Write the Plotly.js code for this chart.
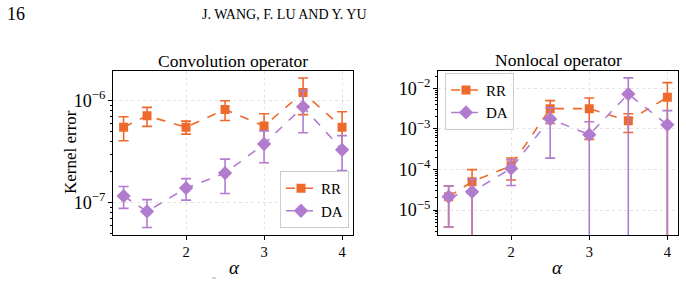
<!DOCTYPE html>
<html>
<head>
<meta charset="utf-8">
<script src="https://cdn.plot.ly/plotly-3.0.1.min.js"></script>
<style>
html,body{margin:0;padding:0;background:#fff;}
#chart{width:686px;height:283px;}
</style>
</head>
<body>
<div id="chart"></div>
<script>
// ---- data ----
var alpha = [1.2, 1.5, 2, 2.5, 3, 3.5, 4];

// Convolution operator (mean, std)
var convRR = [5.5e-7, 7.1e-7, 5.5e-7, 8.2e-7, 5.65e-7, 1.2e-6, 5.5e-7];
var convRRstd = [1.45e-7, 1.5e-7, 0.8e-7, 1.8e-7, 1.8e-7, 4.7e-7, 2.3e-7];
var convDA = [1.16e-7, 8.2e-8, 1.39e-7, 1.95e-7, 3.76e-7, 8.7e-7, 3.3e-7];
var convDAstd = [2.8e-8, 2.5e-8, 3.3e-8, 7.2e-8, 1.3e-7, 3.85e-7, 1.24e-7];

// Nonlocal operator (mean, std)
var nlRR = [2.13e-5, 5.0e-5, 1.23e-4, 3.15e-3, 3.15e-3, 1.58e-3, 6.0e-3];
var nlRRstd = [1.75e-5, 4.9e-5, 6.8e-5, 1.8e-3, 2.6e-3, 7.7e-4, 7.8e-3];
var nlDA = [2.13e-5, 2.8e-5, 1.06e-4, 1.75e-3, 7.2e-4, 7.2e-3, 1.26e-3];
var nlDAstd = [1.75e-5, 3.0e-5, 6.6e-5, 1.56e-3, 7.8e-4, 1.08e-2, 1.55e-3];

var seriesNames = ['RR', 'DA'];
var titles = ['Convolution operator', 'Nonlocal operator'];
var xTicks = [2, 3, 4];

// ---- styles ----
var cRR = '#EE6A2C', cDA = '#B27CCE';
var serif = 'Liberation Serif, DejaVu Serif, serif';

function tr(x, y, err, name, color, symbol, size, xa, ya, leg) {
  return {
    x: x, y: y, name: name, type: 'scatter', mode: 'lines+markers',
    xaxis: xa, yaxis: ya, legend: leg,
    line: {color: color, width: 1.6, dash: 'dash'},
    marker: {color: color, symbol: symbol, size: size},
    error_y: {type: 'data', array: err, visible: true, color: color, thickness: 1.6, width: 5}
  };
}

var data = [
  tr(alpha, convRR, convRRstd, seriesNames[0], cRR, 'square', 9, 'x', 'y', 'legend'),
  tr(alpha, convDA, convDAstd, seriesNames[1], cDA, 'diamond', 11, 'x', 'y', 'legend'),
  tr(alpha, nlRR, nlRRstd, seriesNames[0], cRR, 'square', 9, 'x2', 'y2', 'legend2'),
  tr(alpha, nlDA, nlDAstd, seriesNames[1], cDA, 'diamond', 11, 'x2', 'y2', 'legend2')
];

var W = 686, H = 283;
function px(v){return v / W;}
function py(v){return 1 - v / H;}

var tickFont = {family: serif, size: 14.5, color: '#000'};
function xax(dom, anchor) {
  return {
    domain: dom, anchor: anchor, range: [1.06, 4.14],
    tickvals: xTicks, ticktext: xTicks.map(String),
    ticks: 'outside', ticklen: 3.5, tickcolor: '#000', tickfont: tickFont,
    showline: true, mirror: true, linecolor: '#000', linewidth: 1,
    showgrid: true, gridcolor: '#e4e4e4', griddash: 'dot', gridwidth: 1,
    zeroline: false
  };
}
function yax(dom, anchor, range) {
  return {
    domain: dom, anchor: anchor, type: 'log', range: range,
    dtick: 1, exponentformat: 'power', showexponent: 'all',
    ticks: 'outside', ticklen: 3.5, tickcolor: '#000', tickfont: tickFont,
    minor: {ticks: 'outside', ticklen: 2, tickcolor: '#000', dtick: 'D1', showgrid: false},
    showline: true, mirror: true, linecolor: '#000', linewidth: 1,
    showgrid: true, gridcolor: '#e4e4e4', griddash: 'dot', gridwidth: 1,
    zeroline: false
  };
}

var yDom = [py(235), py(70.7)];

var legStyle = {
  font: {family: serif, size: 15, color: '#000'},
  bgcolor: 'rgba(255,255,255,0.8)', bordercolor: '#cccccc', borderwidth: 1,
  tracegroupgap: 0, itemwidth: 30
};

var layout = {
  width: W, height: H,
  margin: {l: 0, r: 0, t: 0, b: 0},
  paper_bgcolor: '#fff', plot_bgcolor: '#fff',
  showlegend: true,
  font: {family: serif, color: '#000'},
  xaxis: xax([px(112.7), px(353)], 'y'),
  yaxis: yax(yDom, 'x', [-7.317, -5.706]),
  xaxis2: xax([px(437.7), px(678.3)], 'y2'),
  yaxis2: yax(yDom, 'x2', [-5.616, -1.567]),
  legend: Object.assign({x: px(349), y: py(228), xanchor: 'right', yanchor: 'bottom'}, legStyle),
  legend2: Object.assign({x: px(445), y: py(72.7), xanchor: 'left', yanchor: 'top'}, legStyle),
  annotations: [
    {text: '16', x: px(5), y: py(14), xref: 'paper', yref: 'paper', xanchor: 'left', yanchor: 'middle', showarrow: false, font: {family: serif, size: 18}},
    {text: 'J. WANG, F. LU AND Y. YU', x: px(284), y: py(14), xref: 'paper', yref: 'paper', xanchor: 'center', yanchor: 'middle', showarrow: false, font: {family: serif, size: 14}},
    {text: titles[0], x: px(233), y: py(61), xref: 'paper', yref: 'paper', xanchor: 'center', yanchor: 'middle', showarrow: false, font: {family: serif, size: 17.5}},
    {text: titles[1], x: px(558), y: py(60), xref: 'paper', yref: 'paper', xanchor: 'center', yanchor: 'middle', showarrow: false, font: {family: serif, size: 17.5}},
    {text: 'Kernel error', x: px(70), y: py(152), xref: 'paper', yref: 'paper', xanchor: 'center', yanchor: 'middle', textangle: -90, showarrow: false, font: {family: serif, size: 17}},
    {text: '<i>α</i>', x: px(234), y: py(267), xref: 'paper', yref: 'paper', xanchor: 'center', yanchor: 'middle', showarrow: false, font: {family: serif, size: 19}},
    {text: '<i>α</i>', x: px(557), y: py(267), xref: 'paper', yref: 'paper', xanchor: 'center', yanchor: 'middle', showarrow: false, font: {family: serif, size: 19}},
    {text: '~', x: px(214), y: py(278), xref: 'paper', yref: 'paper', xanchor: 'center', yanchor: 'middle', showarrow: false, font: {family: serif, size: 8, color: '#666'}}
  ]
};

Plotly.newPlot('chart', data, layout, {displayModeBar: false, staticPlot: true});
</script>
</body>
</html>
